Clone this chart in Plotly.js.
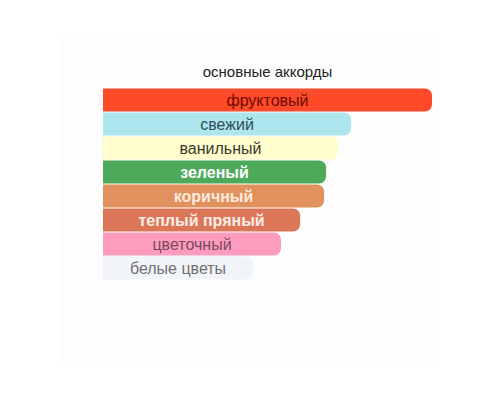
<!DOCTYPE html>
<html>
<head>
<meta charset="utf-8">
<script src="https://cdn.plot.ly/plotly-3.0.1.min.js"></script>
<style>html,body{margin:0;padding:0;background:#fff;}#chart{width:500px;height:400px;}</style>
</head>
<body>
<div id="chart"></div>
<script>
var categories = ["фруктовый","свежий","ванильный","зеленый","коричный","теплый пряный","цветочный","белые цветы"];
var values = [100, 75.4, 71.4, 67.8, 67.2, 59.9, 54.1, 45.6];
var barColors = ["#FF4A2A","#ADE6EE","#FFFDCC","#4EAA5B","#E0915E","#DC7658","#FE9CBF","#F1F5FA"];
var textColors = ["#6A0A00","#2E4F5A","#3A3A30","#FFFFFF","#FDEBDD","#FDEDE6","#7A4A5C","#707070"];
var boldCats = ["зеленый","коричный","теплый пряный"];

var labels = categories.map(function(c){ return boldCats.indexOf(c) >= 0 ? "<b>" + c + "</b>" : c; });

var trace = {
  type: "bar",
  orientation: "h",
  y: categories,
  x: values,
  text: labels,
  textposition: "inside",
  insidetextanchor: "middle",
  constraintext: "none",
  textfont: {family: "Liberation Sans, Arial, sans-serif", size: 16, color: textColors},
  marker: {color: barColors, cornerradius: 7, line: {width: 0}},
  hoverinfo: "none"
};

var layout = {
  width: 500, height: 400,
  margin: {l: 103, r: 68, t: 88, b: 120},
  paper_bgcolor: "#ffffff",
  plot_bgcolor: "rgba(0,0,0,0)",
  title: {text: "основные аккорды", x: 0.5, xref: "paper", y: 1, yref: "paper", yanchor: "bottom", pad: {b: 11},
          font: {family: "Liberation Sans, Arial, sans-serif", size: 15, color: "#222"}},
  bargap: 0.04,
  showlegend: false,
  xaxis: {range: [0, 100], visible: false, fixedrange: true},
  yaxis: {autorange: "reversed", visible: false, fixedrange: true},
  shapes: [{type: "rect", xref: "paper", yref: "paper", x0: -0.131, x1: 1.024, y0: -0.443, y1: 1.276,
            fillcolor: "#FDFDFD", line: {width: 0}, layer: "below"}]
};

Plotly.newPlot("chart", [trace], layout, {displayModeBar: false, staticPlot: true});
</script>
</body>
</html>
